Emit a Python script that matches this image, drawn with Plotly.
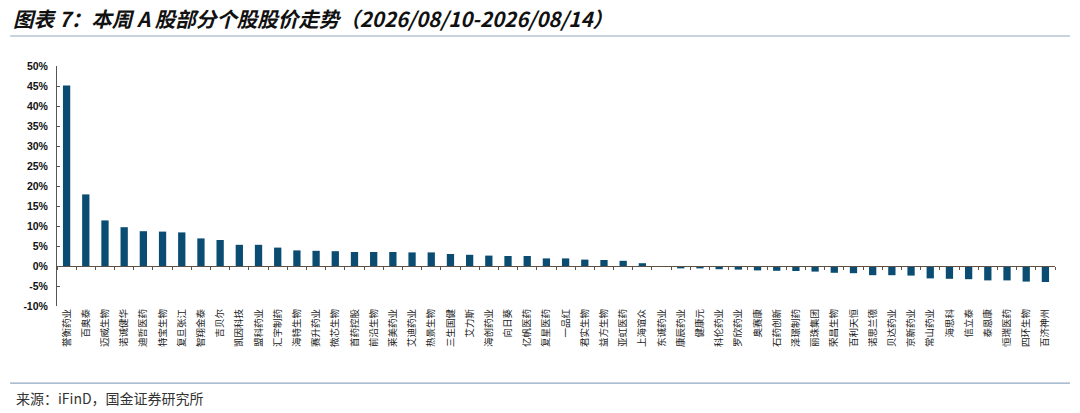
import plotly.graph_objects as go

# 个股名称与本周涨跌幅（%）
stocks = [
    "誉衡药业", "百奥泰", "迈威生物", "诺诚健华", "迪哲医药", "特宝生物", "复旦张江",
    "智翔金泰", "吉贝尔", "凯因科技", "盟科药业", "汇宇制药", "海特生物", "赛升药业",
    "微芯生物", "首药控股", "前沿生物", "莱美药业", "艾迪药业", "热景生物", "三生国健",
    "艾力斯", "海创药业", "向日葵", "亿帆医药", "复星医药", "一品红", "君实生物",
    "益方生物", "亚虹医药", "上海谊众", "东诚药业", "康辰药业", "健康元", "科伦药业",
    "罗欣药业", "奥赛康", "石药创新", "泽璟制药", "丽珠集团", "荣昌生物", "百利天恒",
    "诺思兰德", "贝达药业", "京新药业", "常山药业", "海思科", "信立泰", "泰恩康",
    "恒瑞医药", "四环生物", "百济神州",
]
weekly_change = [
    45.1, 17.9, 11.4, 9.7, 8.7, 8.6, 8.4,
    6.9, 6.5, 5.3, 5.3, 4.6, 3.9, 3.8,
    3.7, 3.5, 3.5, 3.5, 3.4, 3.4, 3.0,
    2.8, 2.6, 2.5, 2.5, 1.9, 1.9, 1.6,
    1.5, 1.3, 0.7, 0.0, -0.6, -0.6, -0.8,
    -0.9, -1.1, -1.2, -1.25, -1.4, -1.7, -1.8,
    -2.3, -2.3, -2.4, -3.1, -3.2, -3.3, -3.6,
    -3.6, -3.9, -4.0,
]
y_ticks = list(range(-10, 51, 5))

title = "图表 7：本周 A 股部分个股股价走势（2026/08/10-2026/08/14）"
source = "来源：iFinD，国金证券研究所"

bar_color = "#0b4d72"
rule_color = "#8fa9c2"
cjk = "Noto Sans CJK SC"

fig = go.Figure()
fig.add_trace(go.Bar(
    x=stocks, y=weekly_change, marker_color=bar_color, marker_line_width=0,
    hovertemplate="%{x}: %{y:.1f}%<extra></extra>",
))
# 辅助轨迹：让零轴上的第二条 x 轴拿到同样的类目
fig.add_trace(go.Scatter(
    x=stocks, y=weekly_change, xaxis="x2", mode="markers",
    marker=dict(opacity=0, size=1), hoverinfo="skip", showlegend=False,
))

y_min, y_max = y_ticks[0], y_ticks[-1]

fig.update_layout(
    width=1080, height=413,
    margin=dict(l=57, r=25, t=66, b=107),
    paper_bgcolor="white", plot_bgcolor="white",
    showlegend=False, bargap=0.62,
    xaxis=dict(
        type="category", categoryorder="array", categoryarray=stocks,
        range=[-0.5, len(stocks) - 0.5],
        tickvals=stocks, ticktext=stocks, tickangle=-90,
        tickfont=dict(family=cjk, size=9.5, color="#222"),
        showline=False, ticks="", showgrid=False, zeroline=False,
    ),
    xaxis2=dict(
        type="category", categoryorder="array", categoryarray=stocks,
        range=[-0.5, len(stocks) - 0.5],
        overlaying="x", anchor="free",
        position=(0 - y_min) / (y_max - y_min),
        showticklabels=False, showgrid=False, zeroline=False,
        showline=True, linecolor="#5e5146", linewidth=1,
        ticks="outside", tickson="boundaries", ticklen=3,
        tickcolor="#5e5146", tickwidth=1,
    ),
    yaxis=dict(
        range=[y_min, y_max], tickvals=y_ticks,
        ticktext=[f"{v}%" for v in y_ticks],
        tickfont=dict(family="Liberation Sans", size=10.5, color="#111", weight="bold"),
        showline=True, linecolor="#555", linewidth=1,
        ticks="inside", ticklen=3, tickcolor="#555",
        ticklabelstandoff=6,
        showgrid=False, zeroline=False,
    ),
    font=dict(family=cjk),
)

fig.add_annotation(
    text=title, xref="paper", yref="paper", x=-0.046, y=1.2,
    xanchor="left", yanchor="middle", showarrow=False,
    font=dict(family=cjk, size=20.5, color="#111", style="italic", weight="bold"),
)
fig.add_annotation(
    text=source, xref="paper", yref="paper", x=-0.043, y=-0.383,
    xanchor="left", yanchor="middle", showarrow=False,
    font=dict(family=cjk, size=14, color="#333"),
)

# 标题下方和来源上方的分隔线
for y_rule in (1.125, -0.321):
    fig.add_shape(
        type="line", xref="paper", yref="paper",
        x0=-0.047, x1=1.015, y0=y_rule, y1=y_rule,
        line=dict(color=rule_color, width=1.2),
    )

# 去掉页面 body 的默认边距，让图贴满窗口；不显示工具栏
fig.write_html(
    "out.html",
    config={"displayModeBar": False},
    post_script="document.body.style.margin='0';",
)
